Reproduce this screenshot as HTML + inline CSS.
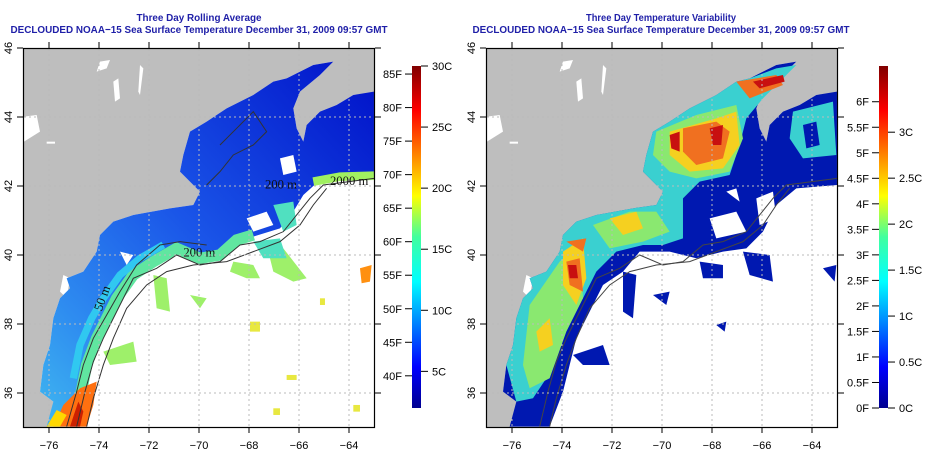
<!DOCTYPE html>
<html><head><meta charset="utf-8"><style>
html,body{margin:0;padding:0;background:#fff;width:950px;height:475px;overflow:hidden}
svg{display:block;font-family:"Liberation Sans",sans-serif}
</style></head><body>
<svg id="fig" width="950" height="475" viewBox="0 0 950 475">
<defs>
<linearGradient id="jetL" x1="0" y1="1" x2="0" y2="0">
<stop offset="0" stop-color="#00008f"/><stop offset="0.12" stop-color="#0000ff"/><stop offset="0.37" stop-color="#00ffff"/><stop offset="0.5" stop-color="#40ff9f"/><stop offset="0.62" stop-color="#ffff00"/><stop offset="0.87" stop-color="#ff0000"/><stop offset="1" stop-color="#800000"/>
</linearGradient>
<linearGradient id="shelfL" x1="1" y1="0" x2="0" y2="1">
<stop offset="0" stop-color="#0010c8"/><stop offset="0.5" stop-color="#1a55e8"/><stop offset="0.8" stop-color="#2e8cf0"/><stop offset="1" stop-color="#40b8f0"/>
</linearGradient>
<clipPath id="boxclip"><rect x="12" y="10" width="1052" height="1136"/></clipPath>
<g id="mapbase">
<rect x="0" y="0" width="1080" height="1160" fill="#fff"/>
<polygon fill="#bebebe" points="0,0 1080,0 1080,140 1000,150 950,180 900,200 860,240 850,290 830,250 820,190 840,140 900,90 940,50 880,60 800,100 760,110 700,150 620,190 560,230 510,260 490,330 480,380 520,420 540,440 520,480 450,490 340,510 280,530 240,570 230,620 190,680 140,700 150,730 120,760 100,820 90,900 70,960 60,1040 100,1070 80,1160 0,1160"/>
<g fill="#fff"><polygon points="240,50 270,45 260,70 230,80"/><polygon points="280,110 295,100 300,160 285,170"/><polygon points="12,215 50,210 60,260 12,290"/><rect x="80" y="290" width="25" height="6"/><polygon points="360,60 370,70 360,150 355,140"/><polygon points="130,690 150,700 140,760 120,740"/></g>
</g>
</defs>

<!-- LEFT PANEL -->
<g fill="#1f1fa8" font-weight="bold" font-size="10.5" text-anchor="middle">
<text x="199" y="21" textLength="125" lengthAdjust="spacingAndGlyphs">Three Day Rolling Average</text>
<text x="199" y="33" textLength="377" lengthAdjust="spacingAndGlyphs">DECLOUDED NOAA−15 Sea Surface Temperature December 31, 2009 09:57 GMT</text>
</g>
<g transform="translate(20,45) scale(0.3333)" clip-path="url(#boxclip)">
<use href="#mapbase"/>
<polygon fill="url(#shelfL)" points="1062,140 1000,150 950,180 900,200 860,240 850,290 830,250 820,190 840,140 900,90 940,50 880,60 800,100 760,110 700,150 620,190 560,230 510,260 490,330 480,380 520,420 540,440 520,480 450,490 340,510 280,530 240,570 230,620 190,680 140,700 150,730 120,760 100,820 90,900 70,960 60,1040 100,1070 80,1145 170,1145 190,1040 210,960 240,880 270,820 300,760 340,690 400,660 470,620 540,650 600,640 650,590 700,575 780,550 820,500 850,450 900,405 1062,395"/>
<polyline fill="none" stroke="#60e6a0" stroke-width="34" points="180,1060 200,960 230,880 260,820 290,760 340,690 400,650 470,610 540,640 600,630 650,585 700,570"/>
<polyline fill="none" stroke="#30c8f0" stroke-width="22" points="160,1000 180,900 215,820 250,760 300,690 360,640 430,600"/>
<polyline fill="none" stroke="#a0f060" stroke-width="26" points="880,410 960,395 1062,392"/>
<polygon fill="#ff7010" points="100,1145 130,1080 180,1030 230,1010 220,1080 200,1145"/>
<polygon fill="#ffd800" points="80,1145 110,1095 140,1110 120,1145"/>
<polygon fill="#cc2000" points="150,1145 175,1070 190,1100 180,1145"/>
<g fill="#9ef06a"><polygon points="640,650 700,660 720,700 680,700 630,680"/><polygon points="740,600 790,610 860,700 820,710 760,680"/><polygon points="400,690 440,700 450,800 410,790"/><polygon points="250,920 340,890 350,950 270,960"/><polygon points="510,750 560,760 540,790"/></g>
<g fill="#50e0c0"><polygon points="700,590 780,580 800,640 730,640"/><polygon points="760,480 820,470 830,540 790,560"/></g>
<polygon fill="#ff9010" points="1020,670 1055,660 1050,710 1025,715"/>
<g fill="#e8e840"><rect x="690" y="830" width="30" height="30"/><rect x="800" y="990" width="30" height="15"/><rect x="900" y="760" width="15" height="20"/><rect x="760" y="1090" width="20" height="20"/><rect x="1000" y="1080" width="20" height="20"/></g>
<g fill="#fff"><polygon points="680,520 740,500 760,540 700,560"/><polygon points="780,340 820,330 830,380 790,390"/><polygon points="300,620 340,630 320,660"/></g>
<g fill="none" stroke="#333" stroke-width="3">
<polyline points="170,1145 195,1040 220,950 250,880 290,800 340,700 410,670 470,630 540,660 600,650 660,600 720,590 790,560 830,510 870,460 910,420 1062,400"/>
<polyline points="140,1145 170,1040 190,960 220,880 260,810 300,740 350,660 420,600 480,590 560,600"/>
<polyline points="200,1145 220,1060 250,960 280,880 320,790 380,720 440,680 520,660 620,650 700,620 780,590 840,540 880,480 920,430"/>
<polyline points="560,420 600,380 640,330 700,300 740,260 700,200 650,250 600,300"/>
</g>
<g font-family="Liberation Serif,serif" font-size="38" fill="#111"><text x="490" y="635">200 m</text><text x="930" y="420">2000 m</text><text x="735" y="430">200 m</text><text x="245" y="800" transform="rotate(-70 245 800)">50 m</text></g>
</g>
<g id="gridL" stroke="#bbb" stroke-width="1" stroke-dasharray="2,3"></g>
<rect x="23.5" y="48.5" width="351" height="379" fill="none" stroke="#000" stroke-width="1.2"/>
<g id="axesL" font-size="11" fill="#000"></g>
<rect x="412" y="66" width="9" height="342" fill="url(#jetL)"/>
<g id="cbL" font-size="11" fill="#000"></g>

<!-- RIGHT PANEL -->
<g fill="#1f1fa8" font-weight="bold" font-size="10.5" text-anchor="middle">
<text x="661" y="21" textLength="150" lengthAdjust="spacingAndGlyphs">Three Day Temperature Variability</text>
<text x="661" y="33" textLength="377" lengthAdjust="spacingAndGlyphs">DECLOUDED NOAA−15 Sea Surface Temperature December 31, 2009 09:57 GMT</text>
</g>
<g transform="translate(483,45) scale(0.3333)" clip-path="url(#boxclip)">
<use href="#mapbase"/>
<polygon fill="#0018b0" points="1062,140 1000,150 950,180 900,200 860,240 850,290 830,250 820,190 840,140 900,90 940,50 880,60 800,100 760,110 700,150 620,190 560,230 510,260 490,330 480,380 520,420 540,440 520,480 450,490 340,510 280,530 240,570 230,620 190,680 140,700 150,730 120,760 100,820 90,900 70,960 60,1040 100,1070 80,1145 200,1145 240,1040 260,960 280,880 320,800 360,720 420,680 470,620 560,620 640,640 720,620 790,610 840,560 880,480 940,430 1062,420"/>
<g fill="#0018b0"><polygon points="650,650 720,660 720,700 660,700"/><polygon points="780,620 860,630 870,710 800,690"/><polygon points="420,680 460,690 450,820 420,800"/><polygon points="270,930 360,900 380,960 300,960"/><polygon points="510,750 560,740 550,780"/><polygon points="1020,670 1060,660 1055,710"/><polygon points="700,840 730,830 725,860"/></g>
<polygon fill="#3ad0d0" points="940,60 880,70 800,100 760,110 700,150 620,190 560,230 510,260 490,330 480,380 520,420 540,440 520,480 450,490 340,510 280,530 240,570 230,620 190,680 140,700 150,730 120,760 100,820 90,900 70,960 100,1070 150,1060 190,1000 220,900 260,820 300,760 340,680 400,620 480,600 540,600 600,580 600,460 650,410 740,390 770,300 790,220 840,160"/>
<g fill="#8ae870"><polygon points="520,260 640,210 760,180 780,280 740,380 640,400 560,380 510,330"/><polygon points="140,780 230,650 290,600 300,760 250,860 200,1000 140,1030 120,960"/><polygon points="330,540 440,500 520,500 560,560 480,590 380,610"/></g>
<g fill="#f5d020"><polygon points="560,260 700,220 760,200 770,300 720,370 620,380 560,330"/><polygon points="240,620 300,580 310,700 280,780 240,720"/><polygon points="380,520 460,500 480,550 420,570"/><polygon points="160,860 200,820 210,900 170,920"/></g>
<g fill="#f07020"><polygon points="600,250 700,230 740,260 720,340 640,360 600,320"/><polygon points="250,590 310,580 300,620"/><polygon points="760,110 880,90 900,120 800,160"/><polygon points="250,650 290,640 300,740 260,720"/></g>
<g fill="#c81010"><polygon points="560,270 590,260 590,320 565,310"/><polygon points="810,110 900,90 905,110 830,130"/><polygon points="255,660 280,660 285,700 260,700"/><polygon points="680,250 720,240 715,300 690,300"/></g>
<polygon fill="#3ad0d0" points="930,200 1050,170 1060,330 960,340 920,280"/>
<polygon fill="#0018b0" points="960,240 1000,230 1010,300 970,310"/>
<g fill="#fff"><polygon points="680,520 760,500 790,560 700,580"/><polygon points="820,460 870,440 880,520 830,540"/><polygon points="730,440 760,430 770,470"/></g>
<g fill="none" stroke="#444" stroke-width="3">
<polyline points="170,1145 195,1040 220,950 250,880 290,800 340,700 410,670 470,630 540,660 600,650 660,600 720,590 790,560 830,510 870,460 910,420 1062,400"/>
<polyline points="200,1145 220,1060 250,960 280,880 320,790 380,720 440,680 520,660 620,650 700,620 780,590 840,540 880,480 920,430"/>
</g>
</g>
<g id="gridR" stroke="#bbb" stroke-width="1" stroke-dasharray="2,3"></g>
<rect x="486.5" y="48.5" width="351" height="379" fill="none" stroke="#000" stroke-width="1.2"/>
<g id="axesR" font-size="11" fill="#000"></g>
<rect x="879" y="66" width="9" height="342" fill="url(#jetL)"/>
<g id="cbR" font-size="11" fill="#000"></g>
</svg>
<script>
const lonTicks = [-76,-74,-72,-70,-68,-66,-64];
const latTicks = [46,44,42,40,38,36];
const leftFLabels = [40,45,50,55,60,65,70,75,80,85];
const leftCLabels = [5,10,15,20,25,30];
const rightFLabels = [0,0.5,1,1.5,2,2.5,3,3.5,4,4.5,5,5.5,6];
const rightCLabels = [0,0.5,1,1.5,2,2.5,3];

const NS = 'http://www.w3.org/2000/svg';
function mk(parent, tag, attrs, txt){
  const e = document.createElementNS(NS, tag);
  for (const k in attrs) e.setAttribute(k, attrs[k]);
  if (txt !== undefined) e.textContent = txt;
  parent.appendChild(e);
  return e;
}
function xLon(lon, x0){ return x0 + 49 + (lon + 76) * 25; }
function yLat(lat){ return 48 + (46 - lat) * 34.5; }

function drawAxes(gid, gridId, x0, ylabX){
  const g = document.getElementById(gid), gr = document.getElementById(gridId);
  lonTicks.forEach(v => {
    const x = xLon(v, x0);
    const l = mk(gr, 'line', {x1:x, x2:x, y1:49, y2:427});
    
    
    const t1 = mk(g, 'line', {x1:x, x2:x, y1:427, y2:433, stroke:'#000'});
    
    
    const t2 = mk(g, 'line', {x1:x, x2:x, y1:48, y2:42, stroke:'#000'});
    
    
    const tx = mk(g, 'text', {x:x, y:449, 'text-anchor':'middle'}, (v<0?'−':'')+Math.abs(v));
    
    
  });
  latTicks.forEach(v => {
    const y = yLat(v);
    if (v !== 46) {
      const l = mk(gr, 'line', {x1:x0+24, x2:x0+374, y1:y, y2:y});
      
      
    }
    const t1 = mk(g, 'line', {x1:x0+23, x2:x0+17, y1:y, y2:y, stroke:'#000'});
    
    
    const t2 = mk(g, 'line', {x1:x0+375, x2:x0+381, y1:y, y2:y, stroke:'#000'});
    
    
    const tx = mk(g, 'text', {x:ylabX, y:y, 'text-anchor':'middle', transform:'rotate(-90 '+ylabX+' '+y+')'}, String(v));
    
    
  });
}
drawAxes('axesL', 'gridL', 0, 12);
drawAxes('axesR', 'gridR', 463, 475);

function drawBar(gid, barX, fLabels, fMin, fMax, cLabels, cMin, cMax){
  const g = document.getElementById(gid);
  const yF = f => 408 - (f - fMin) / (fMax - fMin) * 342;
  const yC = c => 408 - (c - cMin) / (cMax - cMin) * 342;
  fLabels.forEach(f => {
    const y = yF(f);
    const t = mk(g, 'line', {x1:barX-7, x2:barX, y1:y, y2:y, stroke:'#000'});
    
    
    const tx = mk(g, 'text', {x:barX-10, y:y+4, 'text-anchor':'end'}, f + 'F');
    
    
  });
  cLabels.forEach(c => {
    const y = yC(c);
    const t = mk(g, 'line', {x1:barX+9, x2:barX+16, y1:y, y2:y, stroke:'#000'});
    
    
    const tx = mk(g, 'text', {x:barX+20, y:y+4}, c + 'C');
    
    
  });
}
drawBar('cbL', 412, leftFLabels, 35.2, 86.2, leftCLabels, 2.0, 30.0);
drawBar('cbR', 879, rightFLabels, 0, 6.7, rightCLabels, 0, 3.72);
</script>
</body></html>
